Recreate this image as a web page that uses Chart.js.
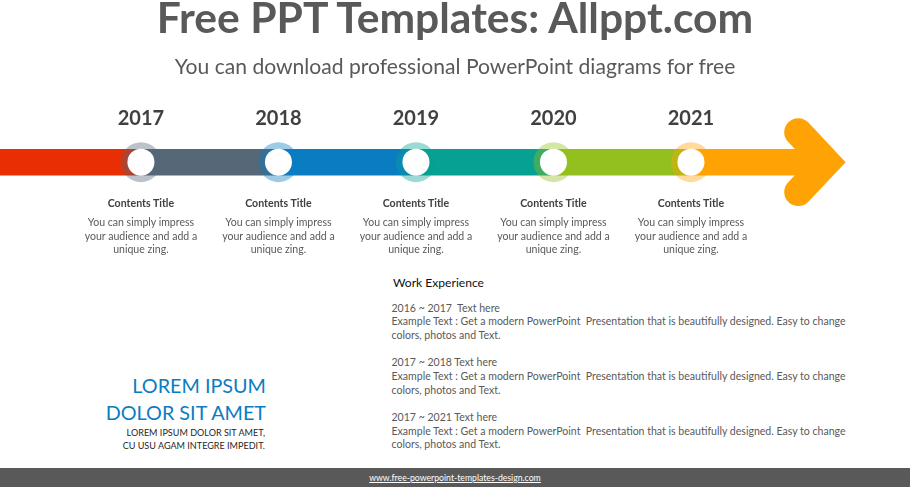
<!DOCTYPE html>
<html>
<head>
<meta charset="utf-8">
<title>Timeline</title>
<script src="https://cdn.jsdelivr.net/npm/chart.js@4"></script>
<style>
  html, body { margin: 0; padding: 0; background: #fff; }
  body { width: 910px; height: 487px; position: relative; overflow: hidden; font-family: Lato, sans-serif; }
  #timeline { position: absolute; left: 0; top: 0; }
  .txt { position: absolute; white-space: pre; }
  #title { left: 0; width: 910px; top: -10px; text-align: center; font-size: 42.6px; line-height: 54px; font-weight: 700; color: #595959; }
  #subtitle { left: 0; width: 910px; top: 52px; text-align: center; font-size: 21.1px; line-height: 28px; color: #595959; }
  .item { position: absolute; top: 196px; width: 140px; margin-left: -70px; text-align: center; }
  .item b { display: block; font-size: 10.6px; line-height: 14px; color: #404040; margin-bottom: 6px; }
  .item span { display: block; font-size: 10.55px; line-height: 13.6px; color: #595959; white-space: pre; }
  #work { left: 393px; top: 275px; font-size: 12.1px; line-height: 16px; color: #111; }
  #body { left: 391.5px; top: 301.6px; font-size: 10.55px; line-height: 13.65px; color: #595959; }
  #lorem { right: 644px; top: 372px; text-align: right; font-size: 19.8px; line-height: 27px; color: #0a7dc2; }
  #loremSmall { right: 645px; top: 426px; text-align: right; font-size: 9.07px; line-height: 13.2px; color: #262626; }
  #footer { position: absolute; left: 0; top: 467.5px; width: 910px; height: 20px; background: #595959; color: #fff; text-align: center; font-size: 8.7px; line-height: 20px; }
  #footer u { text-decoration: underline; }
</style>
</head>
<body>
<canvas id="timeline" width="910" height="230"></canvas>
<div id="title" class="txt"></div>
<div id="subtitle" class="txt"></div>
<div id="work" class="txt"></div>
<div id="body" class="txt"></div>
<div id="lorem" class="txt"></div>
<div id="loremSmall" class="txt"></div>
<div id="footer"><u></u></div>
<script>
// Timeline data
const years = [2017, 2018, 2019, 2020, 2021];
const bandEdges = [2015.97, 2017, 2018, 2019, 2020, 2021, 2021.98];
const bandColors = ['#e82e02', '#566778', '#0a7dc2', '#06a192', '#93c01f', '#ffa305'];
const ringColors = ['rgba(86,103,120,0.4)', 'rgba(10,125,194,0.4)', 'rgba(6,161,146,0.4)', 'rgba(147,192,31,0.4)', 'rgba(255,163,5,0.4)'];
const arrowX = [2021.78, 2021.985, 2021.78];
const arrowY = [30, 0, -30];

// Text
const titleText = 'Free PPT Templates: Allppt.com';
const subtitleText = 'You can download professional PowerPoint diagrams for free';
const itemTitle = 'Contents Title';
const itemText = 'You can simply impress\nyour audience and add a\nunique zing.';
const workTitle = 'Work Experience';
const workPeriods = ['2016 ~ 2017  Text here', '2017 ~ 2018 Text here', '2017 ~ 2021 Text here'];
const workText = 'Example Text : Get a modern PowerPoint  Presentation that is beautifully designed. Easy to change\ncolors, photos and Text.';
const loremBig = 'LOREM IPSUM\nDOLOR SIT AMET';
const loremSmall = 'LOREM IPSUM DOLOR SIT AMET,\nCU USU AGAM INTEGRE IMPEDIT.';
const footerText = 'www.free-powerpoint-templates-design.com';

const setText = (id, text) => { document.getElementById(id).textContent = text; };
setText('title', titleText);
setText('subtitle', subtitleText);
setText('work', workTitle);
setText('body', workPeriods.map(p => p + '\n' + workText).join('\n\n'));
setText('lorem', loremBig);
setText('loremSmall', loremSmall);
document.querySelector('#footer u').textContent = footerText;

// Band segments, one dataset per colour
const bandSets = bandColors.map((color, i) => ({
  data: [{ x: bandEdges[i], y: 0 }, { x: bandEdges[i + 1], y: 0 }],
  showLine: true,
  borderColor: color,
  borderWidth: 26.5,
  borderCapStyle: 'butt',
  pointRadius: 0,
  order: 3
}));

const chart = new Chart(document.getElementById('timeline'), {
  type: 'scatter',
  data: {
    datasets: [
      {
        data: years.map(y => ({ x: y, y: 0 })),
        pointRadius: 13.5,
        pointBackgroundColor: '#fff',
        pointBorderWidth: 0,
        order: 0
      },
      {
        data: years.map(y => ({ x: y, y: 0 })),
        pointRadius: 20,
        pointBackgroundColor: ringColors,
        pointBorderWidth: 0,
        order: 1
      },
      {
        // arrow head, a thick polyline with round ends
        data: arrowX.map((x, i) => ({ x: x, y: arrowY[i] })),
        showLine: true,
        borderColor: bandColors[bandColors.length - 1],
        borderWidth: 28,
        borderCapStyle: 'round',
        borderJoinStyle: 'miter',
        pointRadius: 0,
        clip: false,
        order: 2
      },
      ...bandSets
    ]
  },
  options: {
    responsive: false,
    animation: false,
    events: [],
    layout: { autoPadding: false, padding: { top: 104.8, left: 0, right: 0, bottom: 0 } },
    plugins: { legend: { display: false }, tooltip: { enabled: false } },
    scales: {
      x: {
        type: 'linear',
        position: 'top',
        min: 2015.975,
        max: 2022.593,
        afterBuildTicks: axis => { axis.ticks = years.map(v => ({ value: v })); },
        grid: { display: false, drawTicks: false },
        border: { display: false },
        ticks: {
          padding: 2,
          maxRotation: 0,
          autoSkip: false,
          color: '#404040',
          font: { family: 'Lato', size: 20, weight: 'bold' },
          callback: v => String(v)
        }
      },
      y: { display: false, min: -68, max: 29.4 }
    }
  }
});

// Captions under each year, placed from the x scale
years.forEach(year => {
  const item = document.createElement('div');
  item.className = 'item';
  item.style.left = chart.scales.x.getPixelForValue(year) + 'px';
  const head = document.createElement('b');
  head.textContent = itemTitle;
  const text = document.createElement('span');
  text.textContent = itemText;
  item.append(head, text);
  document.body.appendChild(item);
});
</script>
</body>
</html>
